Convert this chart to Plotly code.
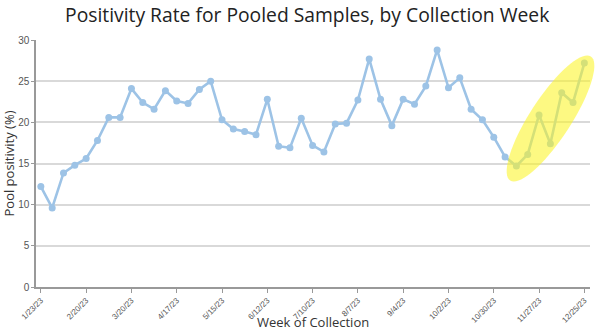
import math
import pandas as pd
import plotly.graph_objects as go

# Data
start_week = "2023-01-23"
positivity = [12.2, 9.6, 13.85, 14.8, 15.6, 17.8, 20.6, 20.6, 24.1, 22.4,
              21.6, 23.85, 22.6, 22.3, 24.0, 25.0, 20.3, 19.2, 18.9, 18.5,
              22.8, 17.1, 16.9, 20.5, 17.2, 16.4, 19.8, 19.9, 22.7, 27.7,
              22.8, 19.6, 22.8, 22.2, 24.4, 28.8, 24.2, 25.4, 21.6, 20.3,
              18.2, 15.8, 14.7, 16.1, 20.9, 17.4, 23.6, 22.4, 27.2]
weeks = pd.date_range(start_week, periods=len(positivity), freq="7D")

title_text = "Positivity Rate for Pooled Samples, by Collection Week"
x_title = "Week of Collection"
y_title = "Pool positivity (%)"

W, H = 600, 334
ML, MR, MT, MB = 36, 10, 40, 47

fig = go.Figure()
fig.add_trace(go.Scatter(
    x=weeks, y=positivity, mode="lines+markers",
    line=dict(color="#9dc3e6", width=2.6),
    marker=dict(color="#9dc3e6", size=7),
    hoverinfo="x+y", showlegend=False,
))

# highlight ellipse (pixel geometry -> paper coords)
pw, ph = W - ML - MR, H - MT - MB
cx, cy = 550.5, 118.5
a, b = 74.0, 20.5
ang = math.atan2(-123, 80)
pts = []
for i in range(73):
    t = 2 * math.pi * i / 72
    ex = a * math.cos(t)
    ey = b * math.sin(t)
    px = cx + ex * math.cos(ang) - ey * math.sin(ang)
    py = cy + ex * math.sin(ang) + ey * math.cos(ang)
    pts.append(((px - ML) / pw, (H - MB - py) / ph))
path = "M " + " L ".join(f"{x:.4f},{y:.4f}" for x, y in pts) + " Z"
fig.add_shape(type="path", path=path, xref="paper", yref="paper",
              fillcolor="rgba(252,244,40,0.58)", line=dict(width=0), layer="above")

# x-axis title as annotation (centred under plot area)
fig.add_annotation(text=x_title, xref="paper", yref="paper", x=0.5, y=(H - MB - 322) / ph,
                   xanchor="center", yanchor="middle", showarrow=False,
                   font=dict(family="Open Sans", size=13, color="#333"))

fig.update_layout(
    width=W, height=H,
    margin=dict(l=ML, r=MR, t=MT, b=MB, autoexpand=False),
    paper_bgcolor="white", plot_bgcolor="white",
    title=dict(text=title_text, x=0.512, xanchor="center", y=0.975, yanchor="top",
               font=dict(family="Open Sans", size=19.3, color="#222")),
    xaxis=dict(
        range=[pd.Timestamp("2023-01-20"), pd.Timestamp("2023-12-28 12:00")],
        tick0=start_week, dtick=28 * 86400000, tickformat="%-m/%-d/%y",
        tickangle=-45, tickfont=dict(family="Liberation Sans", size=8, color="#555"),
        showgrid=False, showline=True, linecolor="#999", linewidth=1.5,
        ticks="outside", ticklen=4, tickcolor="#999", automargin=False,
    ),
    yaxis=dict(
        range=[0, 30], dtick=5, automargin=False,
        tickfont=dict(family="Liberation Sans", size=10, color="#555"),
        showgrid=True, gridcolor="#d9d9d9", gridwidth=1.5,
        showline=True, linecolor="#999", linewidth=1.5, zeroline=False,
        ticks="outside", ticklen=3, tickcolor="#999",
        title=dict(text=y_title, font=dict(family="Open Sans", size=13, color="#333"), standoff=4),
    ),
)

fig.write_html("out.html")
